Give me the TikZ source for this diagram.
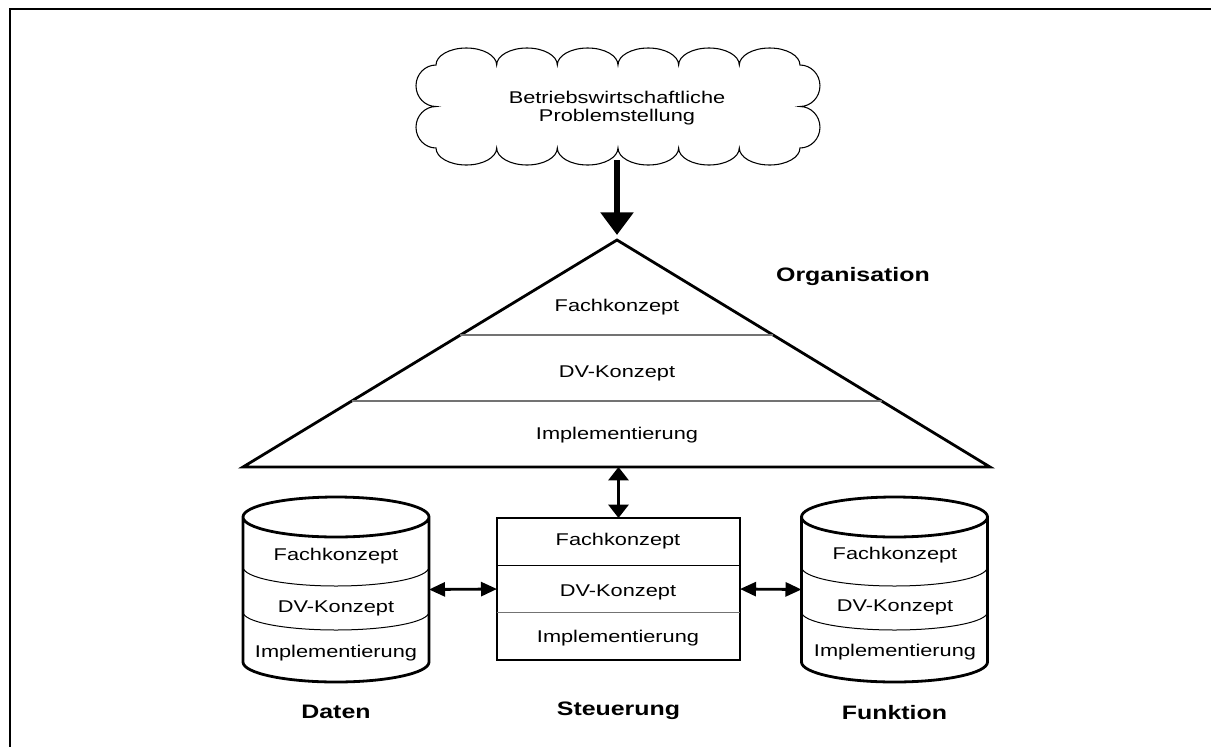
\documentclass[tikz,border=0pt]{standalone}
\usepackage{fontspec}
\setmainfont{Liberation Sans}[FakeStretch=1.28]
\usetikzlibrary{positioning,calc,arrows.meta}

\begin{document}
\begin{tikzpicture}
[x=0.75pt,y=0.75pt,
 every node/.style={inner sep=0pt,outer sep=0pt,font=\fontsize{12.75pt}{15pt}\selectfont},
 title/.style={font=\fontsize{14.6pt}{17pt}\selectfont\bfseries},
 outline/.style={line width=2.1pt},
 sep/.style={line width=0.9pt,black!55},
 thinsep/.style={line width=0.75pt},
 bigarrow/.style={line width=4.5pt,-{Triangle[width=24pt,length=17pt]}},
 link/.style={line width=2.1pt,{Triangle[width=10.5pt,length=12pt]}-{Triangle[width=10.5pt,length=12pt]}},
 vlink/.style={line width=2.1pt,{Triangle[width=15pt,length=10pt]}-{Triangle[width=15pt,length=10pt]}}]
\useasboundingbox (0,0) rectangle (1211,-747);
% frame
\draw[line width=2pt] (1211,-9) -- (10,-9) -- (10,-747);

% problem cloud
\node[align=center,minimum height=78pt,font=\fontsize{12.75pt}{13pt}\selectfont] (prob) at (617,-108)
  {Betriebswirtschaftliche\\Problemstellung};
\draw[line width=0.8pt] (436,-65)
  \foreach \i in {1,...,6} {arc[start angle=180,end angle=0,x radius=30.33,y radius=17]}
  \foreach \i in {1,2} {arc[start angle=90,end angle=-90,x radius=20,y radius=20.75]}
  \foreach \i in {1,...,6} {arc[start angle=0,end angle=-180,x radius=30.33,y radius=17]}
  \foreach \i in {1,2} {arc[start angle=270,end angle=90,x radius=20,y radius=20.75]} -- cycle;

% organisation triangle
\coordinate (apex) at (617,-240);
\coordinate (bl)   at (243,-467);
\coordinate (br)   at (990,-467);
\draw[outline,line join=miter] (bl) -- (apex) -- (br) -- cycle;
\draw[sep] ($(apex)!95/227!(bl)$)  -- ($(apex)!95/227!(br)$);
\draw[sep] ($(apex)!161/227!(bl)$) -- ($(apex)!161/227!(br)$);
\node (oF) at (617,-307)                  {Fachkonzept};
\node (oD) [on grid,below=49.5pt of oF]   {DV-Konzept};
\node (oI) [on grid,below=46.5pt of oD]   {Implementierung};
\node[title] (org) at (853,-277)          {Organisation};
\draw[bigarrow,shorten >=3.75pt] (prob.south) -- (apex);

% steuerung box
\node[draw,outline,minimum width=182.25pt,minimum height=106.5pt] (ctl) at (618.5,-589) {};
\draw[thinsep] ($(ctl.north west)!1/3!(ctl.south west)$) -- ($(ctl.north east)!1/3!(ctl.south east)$);
\draw[sep]     ($(ctl.north west)!2/3!(ctl.south west)$) -- ($(ctl.north east)!2/3!(ctl.south east)$);
\node (cF) at (618,-541)                  {Fachkonzept};
\node (cD) [on grid,below=38.25pt of cF]  {DV-Konzept};
\node (cI) [on grid,below=34.5pt of cD]   {Implementierung};

% daten and funktion cylinders
\node[minimum width=139.5pt,minimum height=108.75pt] (dat) at (336,-589.5) {};
\node[minimum width=139.5pt,minimum height=108.75pt] (fkt) at (894.5,-589.5) {};
\foreach \cyl in {dat,fkt} {
  \draw[outline] (\cyl.north west) -- (\cyl.south west)
    arc[start angle=180,end angle=360,x radius=93,y radius=20] -- (\cyl.north east)
    arc[start angle=0,end angle=360,x radius=93,y radius=20];
  \draw[thinsep] ($(\cyl.north west)+(0,-50)$) arc[start angle=180,end angle=360,x radius=93,y radius=19];
  \draw[thinsep] ($(\cyl.north west)+(0,-95)$) arc[start angle=180,end angle=360,x radius=93,y radius=18];
}
\node (dF) at (336,-556)                  {Fachkonzept};
\node (dD) [on grid,below=39pt of dF]     {DV-Konzept};
\node (dI) [on grid,below=33.75pt of dD]  {Implementierung};
\node (fF) at (895,-555)                  {Fachkonzept};
\node (fD) [on grid,below=39pt of fF]     {DV-Konzept};
\node (fI) [on grid,below=33.75pt of fD]  {Implementierung};

% labels
\node[title] (datlabel) [on grid,below=92pt of dat]   {Daten};
\node[title] (ctllabel) [on grid,below=91pt of ctl]   {Steuerung};
\node[title] (fktlabel) [on grid,below=92pt of fkt]   {Funktion};

% connectors
\draw[link]  (dat.east) -- (ctl.west);
\draw[link]  (ctl.east) -- (fkt.west);
\draw[vlink] (ctl.north |- bl) -- (ctl.north);
\end{tikzpicture}
\end{document}
